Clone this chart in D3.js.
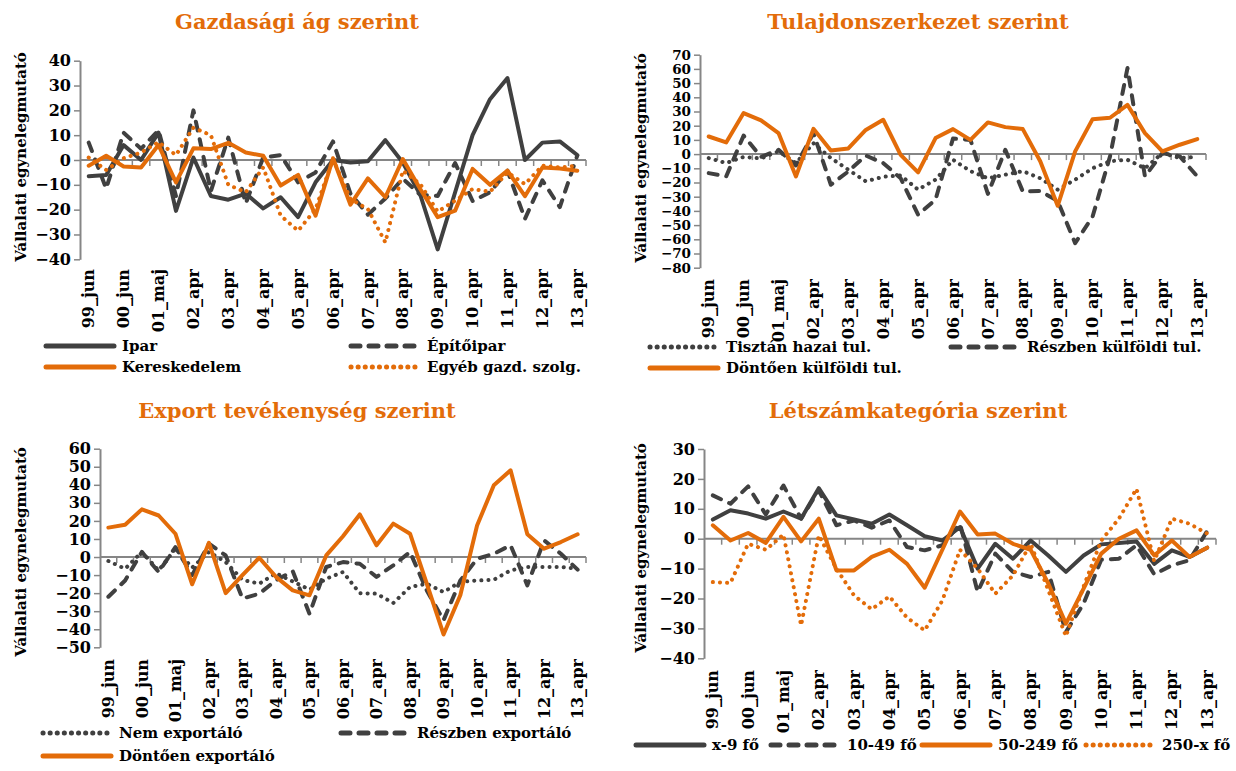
<!DOCTYPE html>
<html>
<head>
<meta charset="utf-8">
<script src="https://cdn.jsdelivr.net/npm/d3@7"></script>
<style>
  html, body { margin: 0; padding: 0; background: #ffffff; }
  svg { display: block; }
  text { font-family: "DejaVu Serif", "Liberation Serif", serif; font-weight: bold; fill: #000; }
</style>
</head>
<body>
<svg id="chart" width="1236" height="771"></svg>
<script>
// ---------------- DATA ----------------
const categories = ["99_jun","99_dec","00_jun","00_dec","01_maj","01_nov","02_apr","02_okt","03_apr","03_okt",
  "04_apr","04_okt","05_apr","05_okt","06_apr","06_okt","07_apr","07_okt","08_apr","08_okt",
  "09_apr","09_okt","10_apr","10_okt","11_apr","11_okt","12_apr","12_okt","13_apr"];
const tickLabels = categories.filter((c, i) => i % 2 === 0);

// Panel 1 – Gazdasági ág szerint
const ipar        = [-6.5,-6,6,0,11,-20.5,1,-14.5,-16,-13.5,-19.5,-15,-23,-9,0,-1,-0.5,8,-1,-14,-36,-13,10,24.5,33,0,7,7.5,2];
const epitoipar   = [7,-11.5,11,4.5,12,-14.5,20,-12.5,9,-17.5,1,2,-9,-5,7.5,-13.5,-22,-15.5,-7.5,-14,-14.5,-1.2,-16.5,-13,-4.3,-23.7,-8.2,-19,1.8];
const kereskedelem= [-2.3,1.7,-2.6,-3,6,-9,4.7,4.4,6.9,3,1.7,-10.3,-6,-22.4,0.7,-18,-7.4,-15,0.4,-11.7,-23,-20.4,-3.6,-10,-4.3,-14.6,-3,-3.4,-4.3];
const egyeb       = [1,-4,0.7,3,7.2,2,13,10,-10,-13,-3,-22.4,-28.5,-19.8,0.4,-15.7,-19.8,-33.2,-4.3,-9.7,-20.8,-16.4,-11.7,-12.8,-5,-9.7,-2.3,-3,-2.3];

// Panel 2 – Tulajdonszerkezet szerint
const tisztanHazai   = [-2.8,-6.3,-2,-3,2,-6.3,7.7,-2.8,-11,-19.2,-16,-15,-25,-18,-4,-12,-17,-14.5,-12,-17,-25,-18,-10,-5,-4,-10,0.7,-2.8,-2];
const reszbenKulf    = [-13.4,-15.7,13,-2,3,-8,14.8,-21.6,-12.2,-1,-6.3,-17,-42.7,-32,11,10,-28,3,-26.3,-26,-33,-62.7,-44,-1.6,60.6,-15.7,0.7,-1.6,-15.7];
const dontoenKulf    = [12.4,8.2,28.9,23.7,14.8,-15.7,17.8,2.6,4,17,24.2,-0.5,-12.9,11.3,17.6,10,22.3,19,17.6,-5,-36.4,1.9,24.6,25.6,34.7,14.8,1.9,6.6,10.6];

// Panel 3 – Export tevékenység szerint
const nemExport      = [-2.2,-6.5,2.8,-7.4,4.6,-5.9,2.8,-2.8,-12.6,-14.8,-9,-13.5,-18,-12,-8.3,-20,-20.3,-25.5,-16.6,-14.8,-19.4,-13.8,-13,-12.6,-7.4,-5.5,-5.5,-5.5,-6.5];
const reszbenExport  = [-22,-13,2.8,-8.3,5.5,-10,7.4,0.9,-23,-20.3,-12.9,-7.8,-31.4,-5.5,-2.8,-3.7,-11,-4.6,2.8,-18.5,-35,-13,-1,1.8,6.5,-15.7,9.2,1.8,-7];
const dontoenExport  = [16.3,17.9,26.4,23,12.9,-15.1,7.9,-20,-10,-0.4,-11,-18.5,-21.2,0.9,11.5,23.6,6.5,18.5,12.9,-14.8,-42.9,-21.2,17.5,39.7,48,12.6,4.6,8.3,12.6];

// Panel 4 – Létszámkategória szerint
const fo9       = [6.4,9.5,8.4,6.7,9.1,6.7,16.9,7.8,6.4,5,8.1,4.5,0.8,-0.6,3.9,-10,-1.7,-6.7,-0.6,-5.6,-11.1,-5.6,-1.9,-1.4,-0.9,-8.4,-3.9,-6.1,-3];
const fo10_49   = [14.5,11.7,17.5,8.1,17.8,6.7,16.2,4.5,6.1,3.7,6.1,-2.8,-3.9,-2.2,5,-17.8,-5,-11.1,-12.8,-11.1,-31.2,-21.7,-7,-6.7,-2.2,-11.9,-8.9,-7.2,2.6];
const fo50_249  = [4.5,-0.6,1.9,-1.4,7.3,-0.9,6.7,-10.6,-10.6,-6.1,-3.7,-8.4,-16.4,-3.7,9.1,1.4,1.7,-1.7,-3.7,-15,-28.4,-16.7,-5,0,2.8,-5.6,-0.6,-6.1,-3];
const fo250x    = [-14.5,-14.8,-1.7,-3.7,1.4,-29,1.1,-10,-19,-23.6,-19.3,-26.4,-30.7,-20.7,-3.7,-10,-18.4,-12.3,-1.7,-17.2,-32.6,-16,-0.6,6.7,16.7,-7.5,6.7,5,1.7];

// ---------------- STYLES ----------------
const DARK = "#404040", ORANGE = "#E36C09", AXIS = "#868686";
const styles = {
  darkSolid:   { color: DARK,   dash: null },
  darkDash:    { color: DARK,   dash: "9,9" },
  darkDot:     { color: DARK,   dash: "0.1,7" },
  orangeSolid: { color: ORANGE, dash: null },
  orangeDot:   { color: ORANGE, dash: "0.1,7" }
};

// ---------------- LAYOUT ----------------
const panels = [
  { title: "Gazdasági ág szerint", tx: 297, ty: 29, left: 80, right: 586, top: 60.7, bottom: 259.3,
    domain: [-40, 40], step: 10, tickFont: 16, ytx: 20, yty: 157, labelY: 269,
    series: [ {v: ipar, s: "darkSolid"}, {v: epitoipar, s: "darkDash"}, {v: kereskedelem, s: "orangeSolid"}, {v: egyeb, s: "orangeDot"} ],
    legend: [ {n: "Ipar", s: "darkSolid", x: 46, y: 346}, {n: "Építőipar", s: "darkDash", x: 351, y: 346},
              {n: "Kereskedelem", s: "orangeSolid", x: 46, y: 367}, {n: "Egyéb gazd. szolg.", s: "orangeDot", x: 351, y: 367} ] },
  { title: "Tulajdonszerkezet szerint", tx: 918, ty: 29, left: 700, right: 1206, top: 54.7, bottom: 267.7,
    domain: [-80, 70], step: 10, tickFont: 13.5, ytx: 640, yty: 158, labelY: 279,
    series: [ {v: tisztanHazai, s: "darkDot"}, {v: reszbenKulf, s: "darkDash"}, {v: dontoenKulf, s: "orangeSolid"} ],
    legend: [ {n: "Tisztán hazai tul.", s: "darkDot", x: 650, y: 347}, {n: "Részben külföldi tul.", s: "darkDash", x: 951, y: 347},
              {n: "Döntően külföldi tul.", s: "orangeSolid", x: 650, y: 368} ] },
  { title: "Export tevékenység szerint", tx: 297, ty: 418, left: 100, right: 586, top: 448.7, bottom: 647.3,
    domain: [-50, 60], step: 10, tickFont: 16, ytx: 20, yty: 552, labelY: 659,
    series: [ {v: nemExport, s: "darkDot"}, {v: reszbenExport, s: "darkDash"}, {v: dontoenExport, s: "orangeSolid"} ],
    legend: [ {n: "Nem exportáló", s: "darkDot", x: 43, y: 733}, {n: "Részben exportáló", s: "darkDash", x: 341, y: 733},
              {n: "Döntően exportáló", s: "orangeSolid", x: 43, y: 756} ] },
  { title: "Létszámkategória szerint", tx: 918, ty: 418, left: 704, right: 1216, top: 449, bottom: 658.3,
    domain: [-40, 30], step: 10, tickFont: 16, ytx: 640, yty: 548, labelY: 670,
    series: [ {v: fo9, s: "darkSolid"}, {v: fo10_49, s: "darkDash"}, {v: fo50_249, s: "orangeSolid"}, {v: fo250x, s: "orangeDot"} ],
    legend: [ {n: "x-9 fő", s: "darkSolid", x: 636, y: 745}, {n: "10-49 fő", s: "darkDash", x: 771, y: 745},
              {n: "50-249 fő", s: "orangeSolid", x: 922, y: 745}, {n: "250-x fő", s: "orangeDot", x: 1086, y: 745} ] }
];

const svg = d3.select("#chart");

panels.forEach(p => {
  const g = svg.append("g");
  const x = d3.scaleBand().domain(categories).range([p.left, p.right]).padding(0);
  const y = d3.scaleLinear().domain(p.domain).range([p.bottom, p.top]);

  // title
  g.append("text").attr("x", p.tx).attr("y", p.ty).attr("text-anchor", "middle")
    .style("font-size", "21px").style("fill", ORANGE).text(p.title);

  // y axis title
  g.append("text").attr("transform", `translate(${p.ytx + 6},${p.yty}) rotate(-90)`)
    .attr("text-anchor", "middle").style("font-size", "15px").text("Vállalati egynelegmutató");

  // y axis
  const yAxis = d3.axisLeft(y).tickValues(d3.range(p.domain[0], p.domain[1] + 0.001, p.step))
    .tickSize(6).tickSizeOuter(0).tickPadding(3).tickFormat(d3.format("d"));
  const ya = g.append("g").attr("transform", `translate(${p.left},0)`).call(yAxis);
  ya.select(".domain").attr("stroke", AXIS).attr("stroke-width", 2);
  ya.selectAll(".tick line").attr("stroke", AXIS).attr("stroke-width", 1.5);
  ya.selectAll(".tick text").style("font-size", p.tickFont + "px").style("font-family", "DejaVu Serif").style("font-weight", "bold").attr("fill", "#000");

  // zero line with category boundary ticks
  const y0 = y(0);
  const boundaries = d3.range(categories.length + 1).map(i => p.left + i * x.step());
  g.append("line").attr("x1", p.left).attr("x2", p.right).attr("y1", y0).attr("y2", y0)
    .attr("stroke", AXIS).attr("stroke-width", 2);
  g.selectAll(null).data(boundaries.slice(1)).enter().append("line")
    .attr("x1", d => d).attr("x2", d => d).attr("y1", y0).attr("y2", y0 + 6)
    .attr("stroke", AXIS).attr("stroke-width", 1.5);

  // x tick labels (low position)
  const xAxis = d3.axisBottom(x).tickValues(tickLabels).tickSize(0).tickPadding(0);
  const xa = g.append("g").attr("transform", `translate(0,${p.labelY})`).call(xAxis);
  xa.select(".domain").remove();
  xa.selectAll(".tick text")
    .attr("transform", "rotate(-90)").attr("x", 0).attr("y", 0).attr("dy", "0.35em")
    .attr("text-anchor", "end")
    .style("font-size", "16px").style("font-family", "DejaVu Serif").style("font-weight", "bold").attr("fill", "#000");

  // series lines
  const line = d3.line().x((d, i) => x(categories[i]) + x.bandwidth() / 2).y(d => y(d));
  p.series.forEach(s => {
    const st = styles[s.s];
    g.append("path").datum(s.v).attr("d", line)
      .attr("fill", "none").attr("stroke", st.color).attr("stroke-width", 4)
      .attr("stroke-linejoin", "round").attr("stroke-linecap", "round")
      .attr("stroke-dasharray", st.dash);
  });

  // legend
  p.legend.forEach(l => {
    const st = styles[l.s];
    g.append("line").attr("x1", l.x).attr("x2", l.x + 68).attr("y1", l.y).attr("y2", l.y)
      .attr("stroke", st.color).attr("stroke-width", 5).attr("stroke-linecap", "round")
      .attr("stroke-dasharray", st.dash);
    g.append("text").attr("x", l.x + 76).attr("y", l.y).attr("dy", "0.35em")
      .style("font-size", "15px").text(l.n);
  });
});
</script>
</body>
</html>
